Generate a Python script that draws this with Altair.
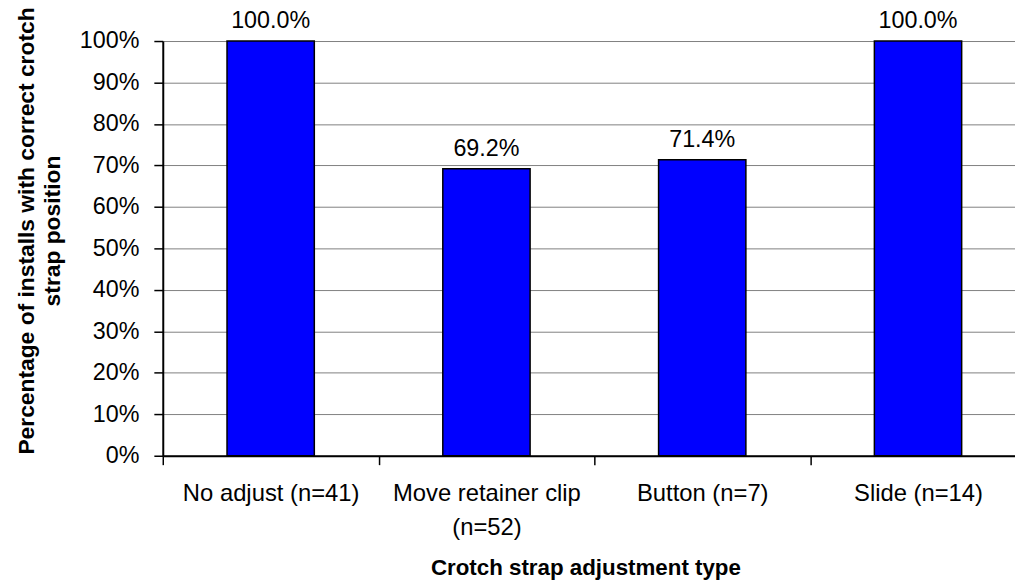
import altair as alt
import pandas as pd

categories = ["No adjust (n=41)", "Move retainer clip\n(n=52)", "Button (n=7)", "Slide (n=14)"]
values = [1.0, 0.692, 0.714, 1.0]
y_ticks = [0.0, 0.1, 0.2, 0.3, 0.4, 0.5, 0.6, 0.7, 0.8, 0.9, 1.0]

df = pd.DataFrame({"cat": categories, "val": values})

FONT = "Liberation Sans"

x_enc = alt.X(
    "cat:N",
    sort=categories,
    scale=alt.Scale(range=[0, 870], paddingInner=0, paddingOuter=0),
    axis=alt.Axis(
        title="Crotch strap adjustment type",
        titleFont=FONT, titleFontSize=22.5, titleFontWeight="bold", titleColor="black",
        titleX=426, titleY=113, titleAlign="center", titleBaseline="middle",
        labelFont=FONT, labelFontSize=24, labelColor="black", labelAngle=0,
        labelPadding=17, labelLineHeight=34, labelLimit=0,
        labelExpr="split(datum.label, '\\n')",
        tickBand="extent", tickSize=9, tickColor="black", tickWidth=1.5,
        domainColor="black", domainWidth=2, grid=False,
    ),
)

y_enc = alt.Y(
    "val:Q",
    scale=alt.Scale(domain=[0, 1], nice=False),
    axis=alt.Axis(
        title=["Percentage of installs with correct crotch", "strap position"],
        titleFont=FONT, titleFontSize=23, titleFontWeight="bold", titleColor="black",
        titleX=-137, titleY=191, titleAngle=-90, titleAlign="center", titleBaseline="middle",
        titleLineHeight=26,
        values=y_ticks, format=".0%",
        labelFont=FONT, labelFontSize=23.5, labelColor="black", labelPadding=15,
        tickSize=9, tickColor="black", tickWidth=1.5,
        domainColor="black", domainWidth=2,
        grid=True, gridColor="#808080", gridWidth=1,
    ),
)

bars = alt.Chart(df).mark_bar(size=88, color="#0000FF", stroke="black", strokeWidth=1.5).encode(
    x=x_enc, y=y_enc
)

labels = alt.Chart(df).mark_text(
    font=FONT, fontSize=23.5, color="black", baseline="alphabetic", dy=-13
).encode(
    x=alt.X("cat:N", sort=categories),
    y=alt.Y("val:Q"),
    text=alt.Text("val:Q", format=".1%"),
)

chart = alt.layer(bars, labels).properties(
    width=859,
    height=418,
    autosize=alt.AutoSizeParams(type="none"),
    padding={"left": 156, "top": 31, "right": 0, "bottom": 128},
).configure_view(stroke=None).configure(background="white")

chart.save("out.html", embed_options={"renderer": "svg", "actions": False})
